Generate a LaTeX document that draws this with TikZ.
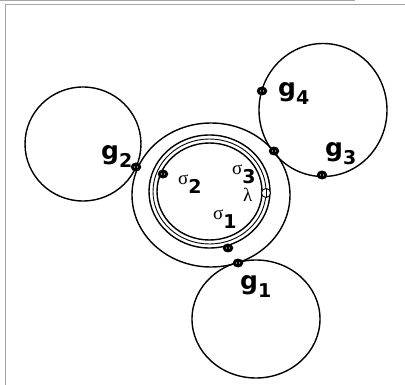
\documentclass[tikz,border=0pt]{standalone}
\usepackage{fontspec}
\setmainfont{DejaVu Sans}
\newfontfamily\grk{Liberation Serif}
\usepackage{tikz}
\usetikzlibrary{shapes,positioning}

% labels: bold g with lowered bold index, serif sigma with lowered bold index
\newcommand{\gname}[1]{{\fontsize{25}{25}\selectfont\bfseries g}\raisebox{-8pt}{\fontsize{19}{19}\selectfont\bfseries #1}}
\newcommand{\sname}[1]{{\grk\fontsize{19}{19}\selectfont σ}\raisebox{-9pt}{\fontsize{19}{19}\selectfont\bfseries #1}}

\tikzset{
  loop/.style={line width=1.4pt},
  thinloop/.style={line width=0.9pt},
  frame/.style={draw=black!35, line width=1pt},
  gdot/.style={ellipse, fill=black, inner sep=0pt, minimum width=10.5pt, minimum height=9pt,
    path picture={
      \fill[white] ([xshift=-1.5pt]path picture bounding box.center) circle (0.7pt);
      \fill[white] ([xshift=1.5pt]path picture bounding box.center) circle (0.7pt);}},
  lbl/.style={anchor=base west, inner sep=0pt}
}

\begin{document}
\begin{tikzpicture}[x=1pt,y=-1pt]
    \useasboundingbox (0,0) rectangle (405,385);

    % Frame
    \draw[frame] (0,1) -- (355,1);
    \draw[frame] (405,4.5) -- (5,4.5) -- (5,385);

    % Outer loops
    \draw[loop] (211,195) ellipse (79 and 72);
    \draw[loop] (83,144) ellipse (58 and 57);
    \draw[loop] (256,319) ellipse (64 and 59);
    \draw[loop] (323,110) ellipse (64 and 66.5);

    % Inner rings
    \draw[loop] (209.5,191.5) ellipse (60.5 and 56.5);
    \draw[thinloop] (209.5,191.5) ellipse (56.5 and 52.5);
    \draw[loop] (209.5,191.5) ellipse (52.5 and 48.5);

    % Junctions
    \node[gdot] (d1) at (238,263) {};
    \node[gdot] (d2) at (136,167) {};
    \node[gdot] (d3) at (322,175) {};
    \node[gdot] (d4) at (262,91) {};
    \node[gdot] (d5) at (274,151) {};
    \node[gdot] (d6) at (163,174) {};
    \node[gdot] (d7) at (228,248) {};
    \node[draw, circle, thinloop, fill=white, inner sep=0pt, minimum size=9pt] (lam) at (266,193) {};
    \draw[thinloop] (266,188.5) -- (266,197.5);

    % Labels
    \node[lbl] (g1) at (240,290) {\gname{1}};
    \node[lbl] (g2) at (101,160) {\gname{2}};
    \node[lbl] (g3) at (325,157) {\gname{3}};
    \node[lbl] (g4) at (278,97) {\gname{4}};
    \node[lbl] (s1) at (213,220) {\sname{1}};
    \node[lbl] (s2) at (178,185) {\sname{2}};
    \node[lbl] (s3) at (232,175) {\sname{3}};
    \node[lbl] (l) at (243,202) {\grk\fontsize{19}{19}\selectfont λ};

\end{tikzpicture}
\end{document}
